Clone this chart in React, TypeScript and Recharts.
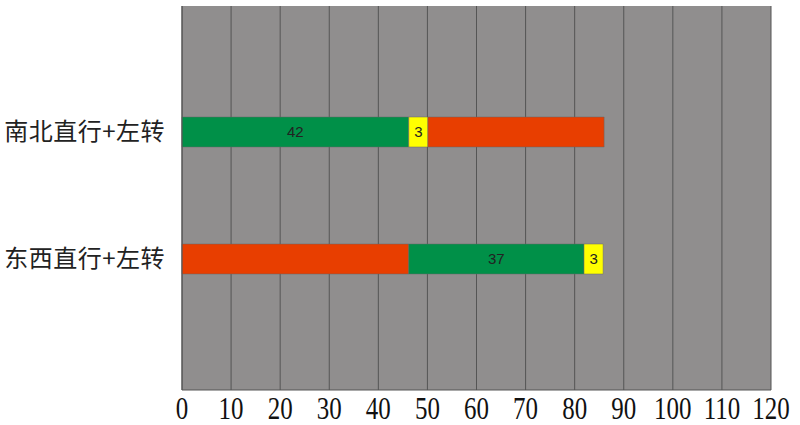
import React from 'react';
import { BarChart, Bar, XAxis, YAxis, CartesianGrid, Cell, LabelList } from 'recharts';

const categories = ['南北直行+左转', '东西直行+左转'];
const seg1 = [46.2, 46.2];
const seg2 = [3.9, 35.7];
const seg3 = [35.9, 3.9];
const seg1Labels = ['42', ''];
const seg2Labels = ['3', '37'];
const seg3Labels = ['', '3'];
const seg1Colors = ['#009048', '#e83e00'];
const seg2Colors = ['#ffff00', '#009048'];
const seg3Colors = ['#e83e00', '#ffff00'];
const xTicks = [0, 10, 20, 30, 40, 50, 60, 70, 80, 90, 100, 110, 120];

const data = categories.map((c, i) => ({
  name: c,
  a: seg1[i], b: seg2[i], c: seg3[i],
  la: seg1Labels[i], lb: seg2Labels[i], lc: seg3Labels[i],
}));

const XTick = (props: any) => {
  const { x, y, payload } = props;
  return (
    <g transform={`translate(${x},${y + 21}) scale(0.78,1)`}>
      <text textAnchor="middle" fontFamily="'Liberation Serif', serif" fontSize={32} fill="#111">
        {payload.value}
      </text>
    </g>
  );
};

const YTick = (props: any) => {
  const { x, y, payload } = props;
  return (
    <text x={x - 9} y={y} dy={8} textAnchor="end" fontFamily="'Noto Sans CJK SC', sans-serif" fontSize={24} letterSpacing={0.5} fill="#222">
      {payload.value}
    </text>
  );
};

const labelStyle = { fontFamily: "'Liberation Sans', Arial, sans-serif", fontSize: 15, fill: '#222' };

export default function App() {
  return (
    <div style={{ position: 'absolute', left: 0, top: 0 }}>
      <BarChart
        width={800}
        height={425}
        data={data}
        layout="vertical"
        margin={{ top: 6, right: 29, bottom: 0, left: 0 }}
      >
        <CartesianGrid
          fill="#908e8e"
          stroke="#555"
          horizontal={false}
        />
        <XAxis
          type="number"
          domain={[0, 120]}
          ticks={xTicks}
          interval={0}
          height={35}
          tickLine={false}
          axisLine={{ stroke: '#555' }}
          tick={<XTick />}
        />
        <YAxis
          type="category"
          dataKey="name"
          width={182}
          tickLine={false}
          axisLine={{ stroke: '#555' }}
          padding={{ top: 62, bottom: 68 }}
          tick={<YTick />}
        />
        <Bar dataKey="a" stackId="s" barSize={30} isAnimationActive={false} stroke="#666" strokeWidth={0.5}>
          {data.map((_, i) => <Cell key={i} fill={seg1Colors[i]} />)}
          <LabelList dataKey="la" position="center" style={labelStyle} />
        </Bar>
        <Bar dataKey="b" stackId="s" barSize={30} isAnimationActive={false} stroke="#666" strokeWidth={0.5}>
          {data.map((_, i) => <Cell key={i} fill={seg2Colors[i]} />)}
          <LabelList dataKey="lb" position="center" style={labelStyle} />
        </Bar>
        <Bar dataKey="c" stackId="s" barSize={30} isAnimationActive={false} stroke="#666" strokeWidth={0.5}>
          {data.map((_, i) => <Cell key={i} fill={seg3Colors[i]} />)}
          <LabelList dataKey="lc" position="center" style={labelStyle} />
        </Bar>
      </BarChart>
    </div>
  );
}
